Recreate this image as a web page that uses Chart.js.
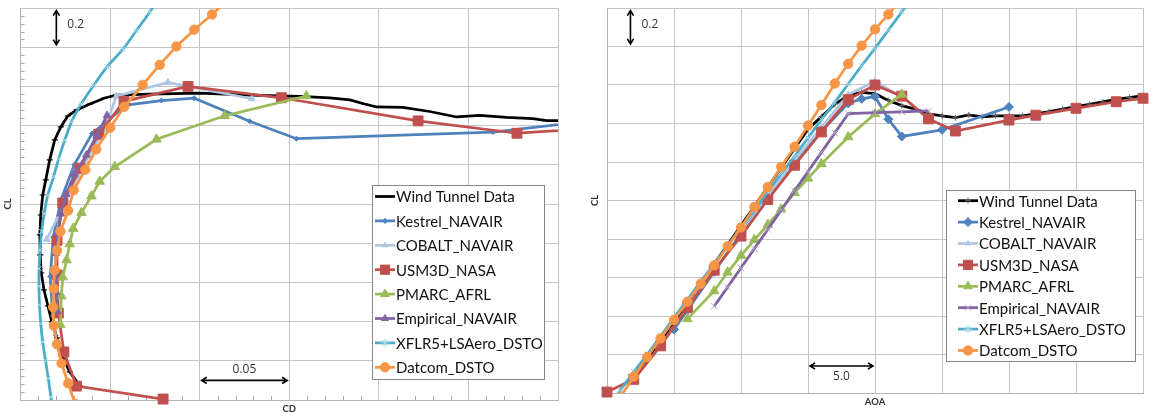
<!DOCTYPE html>
<html lang="en">
<head>
<meta charset="UTF-8">
<title>Drag polar and lift curve comparison</title>
<script src="https://cdn.jsdelivr.net/npm/chart.js@4.4.1/dist/chart.umd.min.js"></script>
<style>
    body { margin: 0; background: #fff; }
    #wrap { position: relative; width: 1151px; height: 413px; overflow: hidden; }
    #polarChart { position: absolute; left: 0; top: 0; }
    #liftChart { position: absolute; left: 580px; top: 0; }
</style>
</head>
<body>
<div id="wrap">
    <canvas id="polarChart" width="575" height="413"></canvas>
    <canvas id="liftChart" width="571" height="413"></canvas>
</div>

<script>
    // ---- data ----
    const seriesNames = ['Wind Tunnel Data', 'Kestrel_NAVAIR', 'COBALT_NAVAIR', 'USM3D_NASA',
                         'PMARC_AFRL', 'Empirical_NAVAIR', 'XFLR5+LSAero_DSTO', 'Datcom_DSTO'];

    // wind tunnel: polar and lift curve were sampled separately
    const windPolarCD = [0.0331, 0.0275, 0.0230, 0.0203, 0.0175, 0.0153, 0.0131, 0.0116, 0.0110, 0.0108,
                         0.0113, 0.0124, 0.0141, 0.0163, 0.0191, 0.0225, 0.0264, 0.0314, 0.0387, 0.0470,
                         0.0537, 0.0721, 0.1000, 0.1279, 0.1559, 0.1726, 0.1838, 0.1921, 0.1988, 0.2133,
                         0.2284, 0.2434, 0.2563, 0.2713, 0.2859, 0.2937, 0.3000];
    const windPolarCL = [-0.528, -0.457, -0.370, -0.283, -0.201, -0.120, -0.038, 0.048, 0.140, 0.242,
                         0.344, 0.446, 0.523, 0.625, 0.727, 0.793, 0.849, 0.880, 0.910, 0.941,
                         0.956, 0.961, 0.966, 0.956, 0.949, 0.941, 0.931, 0.910, 0.895, 0.893,
                         0.872, 0.844, 0.852, 0.842, 0.836, 0.826, 0.826];
    const windAOA = [-8.3, -7, -6, -5, -4, -3, -2, -1, 0, 1, 2, 3, 4, 5, 6, 7, 8, 9, 10, 11, 12, 13, 14,
                     15, 16, 17, 18, 19, 20, 21, 22, 23, 24, 25, 26, 27, 28, 29, 30];
    const windCL = [-0.54, -0.42, -0.33, -0.23, -0.13, -0.03, 0.07, 0.17, 0.27, 0.37, 0.47, 0.57, 0.67,
                    0.77, 0.835, 0.90, 0.945, 0.962, 0.955, 0.92, 0.893, 0.875, 0.85, 0.84, 0.83, 0.845,
                    0.835, 0.84, 0.84, 0.84, 0.85, 0.862, 0.875, 0.888, 0.90, 0.912, 0.925, 0.935, 0.945];

    const kestrelAOA = [-5, -4, -2, 0, 2, 4, 6, 8, 9, 10, 11, 12, 15, 20];
    const kestrelCL = [-0.27, -0.17, 0.03, 0.23, 0.42, 0.60, 0.76, 0.905, 0.928, 0.94, 0.822, 0.733, 0.767, 0.886];
    const kestrelCD = [0.0197, 0.0180, 0.0166, 0.0183, 0.0225, 0.0300, 0.0400, 0.0591, 0.0787, 0.0969,
                       0.1279, 0.1540, 0.2637, 0.377];

    const cobaltAOA = [0, 2, 4, 6, 8, 10, 12];
    const cobaltCL = [0.22, 0.42, 0.61, 0.78, 0.95, 1.02, 0.937];
    const cobaltCD = [0.0147, 0.0255, 0.0360, 0.0470, 0.0535, 0.0822, 0.1291];

    const usm3dAOA = [-10, -8, -6, -4, -2, 0, 2, 4, 6, 8, 10, 12, 14, 16, 20, 22, 25, 28, 30];
    const usm3dCL = [-0.595, -0.529, -0.355, -0.156, 0.038, 0.215, 0.405, 0.583, 0.756, 0.924,
                     1.0, 0.942, 0.824, 0.761, 0.818, 0.843, 0.879, 0.913, 0.931];
    const usm3dCD = [0.0796, 0.0312, 0.0242, 0.0211, 0.0205, 0.0204, 0.0236, 0.0331, 0.0437, 0.0578,
                     0.0935, 0.1456, 0.2219, 0.2771, 0.375, null, null, null, null];

    const pmarcAOA = [-4, -2, -1, 0, 1, 2, 3, 4, 5, 6, 8, 10, 12];
    const pmarcCL = [-0.215, -0.07, 0.027, 0.114, 0.196, 0.275, 0.355, 0.44, 0.515, 0.59, 0.73, 0.85, 0.951];
    const pmarcCD = [0.0222, 0.0228, 0.0236, 0.0257, 0.0275, 0.0294, 0.0340, 0.0396, 0.0442, 0.0526,
                     0.0759, 0.1140, 0.1596];

    const empiricalAOA = [-2, -1, 0, 1, 2, 3, 4, 5, 6, 7, 8, 10, 12, 14];
    const empiricalCL = [-0.15, -0.05, 0.05, 0.15, 0.25, 0.35, 0.45, 0.55, 0.65, 0.75, 0.851, 0.857, 0.861, 0.865];
    const empiricalCD = [0.0205, 0.0198, 0.0196, 0.0198, 0.0206, 0.0225, 0.0255, 0.0300, 0.0368, 0.0425,
                         0.0483, null, null, null];

    const xflrAOA = [-10, -9, -8, -7, -6, -5, -4, -3, -2, -1, 0, 1, 2, 3, 4, 5, 6, 7, 8, 9, 10, 11, 12, 13];
    const xflrCL = [-0.68, -0.585, -0.49, -0.40, -0.305, -0.21, -0.115, -0.02, 0.07, 0.165, 0.26, 0.35,
                    0.445, 0.54, 0.63, 0.725, 0.82, 0.91, 1.005, 1.10, 1.19, 1.285, 1.38, 1.47];
    const xflrCD = [0.0188, 0.0170, 0.0155, 0.0140, 0.0124, 0.0113, 0.0106, 0.0103, 0.0104, 0.0109,
                    0.0118, 0.0132, 0.0152, 0.0185, 0.0213, 0.0247, 0.0285, 0.0338, 0.0408, 0.0483,
                    0.0572, 0.0647, 0.0722, 0.0790];

    const datcomAOA = [-9, -8, -7, -6, -5, -4, -3, -2, -1, 0, 1, 2, 3, 4, 5, 6, 7, 8, 9, 10, 11, 12];
    const datcomCL = [-0.62, -0.515, -0.413, -0.316, -0.221, -0.126, -0.032, 0.063, 0.162, 0.26, 0.367,
                      0.47, 0.575, 0.679, 0.789, 0.896, 1.008, 1.11, 1.204, 1.289, 1.367, 1.45];
    const datcomCD = [0.0305, 0.0266, 0.0229, 0.0204, 0.0186, 0.0182, 0.0186, 0.0191, 0.0204, 0.0223,
                      0.0266, 0.0297, 0.0362, 0.0423, 0.0501, 0.0579, 0.0682, 0.0777, 0.0870, 0.0969,
                      0.1069, 0.1168];

    // ---- styling ----
    const colors = ['#000000', '#4F81BD', '#B0C7E4', '#C0504D', '#9BBB59', '#8064A2', '#4BACC6', '#F79646'];

    function pairs(xs, ys) {
        const out = [];
        xs.forEach((x, i) => { if (x !== null && ys[i] !== null) out.push({ x: x, y: ys[i] }); });
        return out;
    }

    // marker style per series: [polar, lift]
    const markers = [
        [{ s: 'line', r: 3, c: '#000', bw: 1.2 },         { s: 'cross', r: 3, c: '#666', bw: 1 }],
        [{ s: 'rectRot', r: 2.5, c: colors[1], bw: 1 },   { s: 'rectRot', r: 4.5, c: colors[1], bw: 1 }],
        [{ s: 'triangle', r: 4, c: colors[2], bw: 1 },    { s: 'triangle', r: 3.5, c: colors[2], bw: 1 }],
        [{ s: 'rect', r: 7, c: colors[3], bw: 1 },        { s: 'rect', r: 7, c: colors[3], bw: 1 }],
        [{ s: 'triangle', r: 5.5, c: colors[4], bw: 1 },  { s: 'triangle', r: 5.5, c: colors[4], bw: 1 }],
        [{ s: 'triangle', r: 4.5, c: colors[5], bw: 1 },  { s: 'crossRot', r: 4.5, c: '#B3A6C9', bw: 1 }],
        [{ s: 'crossRot', r: 3.5, c: '#A8D8E6', bw: 1 },  { s: 'crossRot', r: 4, c: '#A8D8E6', bw: 1 }],
        [{ s: 'circle', r: 4.7, c: colors[7], bw: 1 },    { s: 'circle', r: 4.7, c: colors[7], bw: 1 }]
    ];
    const legendMarks = [
        [null,                                  { s: 'cross', r: 3, c: '#666' }],
        [{ s: 'rectRot', r: 2.5, c: colors[1] }, { s: 'rectRot', r: 4.5, c: colors[1] }],
        [{ s: 'triangle', r: 3, c: colors[2] },  { s: 'triangle', r: 3, c: colors[2] }],
        [{ s: 'rect', r: 6.5, c: colors[3] },    { s: 'rect', r: 6.5, c: colors[3] }],
        [{ s: 'triangle', r: 5, c: colors[4] },  { s: 'triangle', r: 5, c: colors[4] }],
        [{ s: 'triangle', r: 4, c: colors[5] },  { s: 'crossRot', r: 4.5, c: '#B3A6C9' }],
        [{ s: 'star', r: 4.5, c: '#A8D8E6' },    { s: 'star', r: 4.5, c: '#A8D8E6' }],
        [{ s: 'circle', r: 4.7, c: colors[7] },  { s: 'circle', r: 4.7, c: colors[7] }]
    ];

    function makeDatasets(panel, dataList) {
        return dataList.map((data, i) => {
            const m = markers[i][panel];
            const ds = {
                label: seriesNames[i],
                data: data,
                showLine: true,
                borderColor: colors[i],
                borderWidth: 2.75,
                pointStyle: m.s,
                pointRadius: m.r,
                pointBorderWidth: m.bw,
                pointBorderColor: m.c,
                pointBackgroundColor: m.c,
                pointHoverRadius: m.r,
                tension: i === 6 && panel === 0 ? 0.3 : 0,
                order: 10 - i,
                legendMark: legendMarks[i][panel]
            };
            if (i === 3) ds.clip = { left: 8, top: 0, right: panel === 0 ? 0 : 8, bottom: 8 };
            return ds;
        });
    }

    const polarData = [
        pairs(windPolarCD, windPolarCL),
        pairs(kestrelCD, kestrelCL),
        pairs(cobaltCD, cobaltCL),
        pairs(usm3dCD, usm3dCL),
        pairs(pmarcCD, pmarcCL),
        pairs(empiricalCD, empiricalCL),
        pairs(xflrCD, xflrCL),
        pairs(datcomCD, datcomCL)
    ];
    const liftData = [
        pairs(windAOA, windCL),
        pairs(kestrelAOA, kestrelCL),
        pairs(cobaltAOA, cobaltCL),
        pairs(usm3dAOA, usm3dCL),
        pairs(pmarcAOA, pmarcCL),
        pairs(empiricalAOA, empiricalCL),
        pairs(xflrAOA, xflrCL),
        pairs(datcomAOA, datcomCL)
    ];

    function mark(ctx, m, x, y) {
        if (!m) return;
        ctx.fillStyle = m.c;
        ctx.strokeStyle = m.c;
        ctx.lineWidth = 1;
        Chart.helpers.drawPoint(ctx, { pointStyle: m.s, radius: m.r, borderWidth: 1, rotation: 0 }, x, y);
    }

    // legend box drawn inside the plot
    const boxLegend = {
        id: 'boxLegend',
        afterDraw(chart, args, o) {
            const ctx = chart.ctx;
            ctx.save();
            ctx.fillStyle = '#fff';
            ctx.fillRect(o.x, o.y, o.w, o.h);
            ctx.strokeStyle = '#868686';
            ctx.lineWidth = 1;
            ctx.strokeRect(o.x + 0.5, o.y + 0.5, o.w, o.h);
            ctx.font = o.font;
            ctx.textBaseline = 'middle';
            chart.data.datasets.forEach((ds, i) => {
                const y = o.firstRow + i * o.rowGap;
                const x0 = o.x + o.lineStart;
                ctx.strokeStyle = ds.borderColor;
                ctx.lineWidth = 2.75;
                ctx.beginPath();
                ctx.moveTo(x0, y);
                ctx.lineTo(x0 + 20, y);
                ctx.stroke();
                mark(ctx, ds.legendMark, x0 + 10, y);
                ctx.fillStyle = '#111';
                ctx.fillText(ds.label, x0 + 21, y + 1);
            });
            ctx.restore();
        }
    };

    function arrow(ctx, x1, y1, x2, y2) {
        const a = Math.atan2(y2 - y1, x2 - x1), h = 6;
        ctx.beginPath();
        ctx.moveTo(x1, y1);
        ctx.lineTo(x2, y2);
        [[x2, y2, a], [x1, y1, a + Math.PI]].forEach(([x, y, t]) => {
            ctx.moveTo(x - h * Math.cos(t - 0.55), y - h * Math.sin(t - 0.55));
            ctx.lineTo(x, y);
            ctx.lineTo(x - h * Math.cos(t + 0.55), y - h * Math.sin(t + 0.55));
        });
        ctx.stroke();
    }

    // axis titles, scale arrows and minor ticks
    const decor = {
        id: 'decor',
        beforeDatasetsDraw(chart, args, o) {
            if (!o.minor) return;
            const ctx = chart.ctx, xs = chart.scales.x, ys = chart.scales.y, a = chart.chartArea;
            ctx.save();
            ctx.strokeStyle = '#a8a8a8';
            ctx.lineWidth = 1;
            ctx.beginPath();
            for (let k = 0; k <= 50; k++) {
                if (k % 5 === 0) continue;
                const py = Math.round(ys.getPixelForValue(-0.6 + k * 0.04)) + 0.5;
                ctx.moveTo(a.left, py);
                ctx.lineTo(a.left + 4, py);
            }
            for (let k = 0; k <= 30; k++) {
                if (k % 5 === 0) continue;
                const px = Math.round(xs.getPixelForValue(k * 0.01)) + 0.5;
                ctx.moveTo(px, a.bottom);
                ctx.lineTo(px, a.bottom - 4);
            }
            ctx.stroke();
            ctx.restore();
        },
        afterDraw(chart, args, o) {
            const ctx = chart.ctx, xs = chart.scales.x, ys = chart.scales.y, a = chart.chartArea;
            ctx.save();
            ctx.fillStyle = '#333';
            ctx.font = 'bold 9.5px Lato';
            ctx.textAlign = 'center';
            ctx.textBaseline = 'middle';
            ctx.fillText(o.xTitle, (a.left + a.right) / 2, o.xTitleY);
            ctx.save();
            ctx.translate(o.yTitleX, (a.top + a.bottom) / 2);
            ctx.rotate(-Math.PI / 2);
            ctx.fillText('CL', 0, 0);
            ctx.restore();

            ctx.strokeStyle = '#000';
            ctx.lineWidth = 1.6;
            ctx.font = '12px "Open Sans"';
            ctx.fillStyle = '#333';
            // vertical 0.2 arrow
            const vx = xs.getPixelForValue(o.vArrowX);
            const vTop = ys.getPixelForValue(1.4) + 2.5, vBot = ys.getPixelForValue(1.2) - 2.5;
            arrow(ctx, vx, vTop, vx, vBot);
            ctx.textAlign = 'left';
            ctx.fillText('0.2', vx + 11, (vTop + vBot) / 2 - 3);
            // horizontal arrow
            const hy = ys.getPixelForValue(o.hArrowY);
            const hL = xs.getPixelForValue(o.hArrow[0]) + 2, hR = xs.getPixelForValue(o.hArrow[1]) - 2;
            arrow(ctx, hL, hy, hR, hy);
            ctx.textAlign = 'center';
            ctx.fillText(o.hLabel, (hL + hR) / 2, hy + o.hLabelDy);
            ctx.restore();
        }
    };

    function axes(xMin, xMax, xStep) {
        const grid = { color: '#c4c4c4', lineWidth: 1, drawTicks: false };
        const border = { display: true, color: '#b4b4b4', width: 1 };
        return {
            x: { type: 'linear', min: xMin, max: xMax, grid: grid, border: border,
                 ticks: { display: false, stepSize: xStep } },
            y: { type: 'linear', min: -0.6, max: 1.4, grid: grid, border: border,
                 ticks: { display: false, stepSize: 0.2 } }
        };
    }

    Chart.defaults.animation = false;

    new Chart(document.getElementById('polarChart'), {
        type: 'scatter',
        data: { datasets: makeDatasets(0, polarData) },
        options: {
            responsive: false,
            devicePixelRatio: 1,
            layout: { padding: { left: 20.5, right: 17, top: 8, bottom: 13 } },
            scales: axes(0, 0.30, 0.05),
            plugins: {
                legend: { display: false },
                tooltip: { enabled: false },
                boxLegend: { x: 372, y: 185, w: 172, h: 194, firstRow: 196.5, rowGap: 24.4,
                             lineStart: 3, font: '15px Lato' },
                decor: { minor: true, xTitle: 'CD', xTitleY: 408.5, yTitleX: 8,
                         vArrowX: 0.02, hArrow: [0.10, 0.15], hArrowY: -0.5, hLabel: '0.05', hLabelDy: -11 }
            }
        },
        plugins: [decor, boxLegend]
    });

    new Chart(document.getElementById('liftChart'), {
        type: 'scatter',
        data: { datasets: makeDatasets(1, liftData) },
        options: {
            responsive: false,
            devicePixelRatio: 1,
            layout: { padding: { left: 27, right: 1, top: 7, bottom: 20 } },
            scales: axes(-10, 30, 5),
            plugins: {
                legend: { display: false },
                tooltip: { enabled: false },
                boxLegend: { x: 366, y: 190, w: 189, h: 171, firstRow: 200.7, rowGap: 21.4,
                             lineStart: 12, font: '15px Lato' },
                decor: { minor: false, xTitle: 'AOA', xTitleY: 402, yTitleX: 15,
                         vArrowX: -8.25, hArrow: [5, 10], hArrowY: -0.46, hLabel: '5.0', hLabelDy: 11 }
            }
        },
        plugins: [decor, boxLegend]
    });
</script>
</body>
</html>
